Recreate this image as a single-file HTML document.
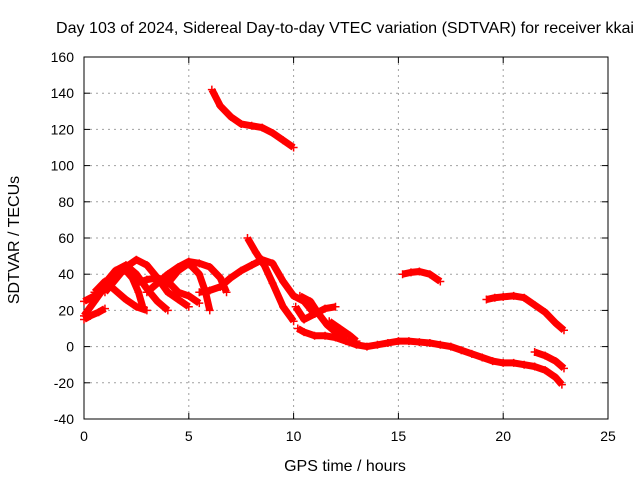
<!DOCTYPE html>
<html><head><meta charset="utf-8"><style>
body{margin:0;background:#fff}
svg{display:block;font-family:"Liberation Sans",sans-serif;font-size:14px}
.big{font-size:16px}
</style></head><body>
<svg id="chart" width="640" height="480">
<text class="big" x="345" y="33" text-anchor="middle" textLength="578" lengthAdjust="spacingAndGlyphs">Day 103 of 2024, Sidereal Day-to-day VTEC variation (SDTVAR) for receiver kkai</text>
<g id="grid"></g>
<g id="axes"></g>
<g id="series"></g>
<text class="big" x="345" y="471" text-anchor="middle">GPS time / hours</text>
<text class="big" x="19" y="240" text-anchor="middle" transform="rotate(-90 19 240)">SDTVAR / TECUs</text>
</svg>
<script>
const xTicks=[0,5,10,15,20,25];
const yTicks=[-40,-20,0,20,40,60,80,100,120,140,160];
const trackT1=[[6.1,142],[6.5,133],[7,127],[7.5,123],[8,122],[8.5,121],[9,118],[9.5,114],[10,110]];
const trackT2=[[15.2,40],[15.6,41],[16,41.5],[16.5,40],[17,36]];
const trackT3=[[19.2,26],[19.6,27],[20,27.5],[20.5,28],[21,27],[21.5,23],[22,19],[22.5,13],[22.9,9]];
const trackT4=[[10.2,10],[10.5,8],[11,6],[11.5,6],[12,5],[12.5,3],[13,1],[13.5,0],[14,1],[14.5,2],[15,3],[15.5,3],[16,2.5],[16.5,2],[17,1],[17.5,0],[18,-2],[18.5,-4],[19,-6],[19.5,-8],[20,-9],[20.5,-9],[21,-10],[21.5,-11],[22,-13],[22.5,-17],[22.8,-21]];
const trackT5=[[21.5,-3],[22,-5],[22.5,-8],[22.9,-12]];
const trackA=[[0,15],[0.3,17],[0.7,19],[1,21]];
const trackB=[[0,25],[0.5,28],[1,35],[1.5,42],[2,45],[2.5,40],[3,32],[3.5,25],[4,20]];
const trackC=[[0,17],[0.5,25],[1,33],[1.5,40],[2,42],[2.3,38],[2.6,30],[2.8,22]];
const trackD=[[1,30],[1.5,37],[2,44],[2.5,48],[3,45],[3.5,38],[4,30],[4.5,26],[5,22]];
const trackE=[[0.5,30],[1,36],[1.5,31],[2,26],[2.5,22],[3,20]];
const trackF=[[2.5,35],[3,37],[3.5,38],[4,36],[4.5,30],[5,28],[5.5,24]];
const trackG=[[3,30],[3.5,35],[4,40],[4.5,44],[5,47],[5.5,46],[6,44],[6.5,38],[6.8,30]];
const trackH=[[4,35],[4.5,42],[5,46],[5.5,40],[5.8,30],[6,20]];
const trackMain=[[5.5,30],[6,31],[6.5,33],[7,38],[7.5,42],[8,45],[8.5,48],[9,46],[9.5,36],[10,28],[10.5,25],[11,18]];
const trackK=[[7.8,60],[8.2,52],[8.6,45],[9,35],[9.5,22],[10,14]];
const trackL=[[10.1,22],[10.5,15],[11,18],[11.5,21],[12,22]];
const trackM=[[10.3,28],[10.8,25],[11.2,18],[11.6,12],[12,8],[12.5,4]];
const trackN=[[11.7,14],[12.2,10],[12.7,6],[13,3]];
const tracks=[trackT1,trackT2,trackT3,trackT4,trackT5,trackA,trackB,trackC,trackD,trackE,trackF,trackG,trackH,trackMain,trackK,trackL,trackM,trackN];

const X0=84,X1=608,Y0=419,Y1=57,xMin=0,xMax=25,yMin=-40,yMax=160;
const sx=v=>X0+(v-xMin)/(xMax-xMin)*(X1-X0);
const sy=v=>Y0-(v-yMin)/(yMax-yMin)*(Y0-Y1);
const NS="http://www.w3.org/2000/svg";
function mk(tag,parent,attrs){const e=document.createElementNS(NS,tag);for(const k in attrs)e.setAttribute(k,attrs[k]);parent.appendChild(e);return e;}
const grid=document.getElementById('grid'),axes=document.getElementById('axes'),series=document.getElementById('series');
xTicks.forEach(t=>{
  const x=sx(t);
  if(t>xMin&&t<xMax){const g=mk('line',grid,{x1:x,x2:x,y1:Y1,y2:Y0,stroke:'#a0a0a0','stroke-dasharray':'2,4'});
  
  }
  mk('line',axes,{x1:x,x2:x,y1:Y0,y2:Y0-6,stroke:'#000'});
  mk('line',axes,{x1:x,x2:x,y1:Y1,y2:Y1+6,stroke:'#000'});
  const l=mk('text',axes,{x:x,y:Y0+22,'text-anchor':'middle'});l.textContent=t;
  
  
});
yTicks.forEach(t=>{
  const y=sy(t);
  if(t>yMin&&t<yMax){const g=mk('line',grid,{x1:X0,x2:X1,y1:y,y2:y,stroke:'#a0a0a0','stroke-dasharray':'2,4'});
  
  }
  mk('line',axes,{x1:X0,x2:X0+6,y1:y,y2:y,stroke:'#000'});
  mk('line',axes,{x1:X1,x2:X1-6,y1:y,y2:y,stroke:'#000'});
  const l=mk('text',axes,{x:X0-10,y:y+5,'text-anchor':'end'});l.textContent=t;
  
  
});
const b=mk('rect',axes,{x:X0,y:Y1,width:X1-X0,height:Y0-Y1,fill:'none',stroke:'#000'});


tracks.forEach(tr=>{
  const pl=mk('polyline',series,{points:tr.map(p=>sx(p[0])+','+sy(p[1])).join(' '),fill:'none',stroke:'#ff0000','stroke-width':7,'stroke-linejoin':'round'});
  
  
  tr.forEach(p=>{
    const x=sx(p[0]),y=sy(p[1]);
    const m=mk('path',series,{d:`M${x-4},${y}H${x+4}M${x},${y-4}V${y+4}`,stroke:'#ff0000','stroke-width':1.5});
    
    
  });
});
</script>
</body></html>
